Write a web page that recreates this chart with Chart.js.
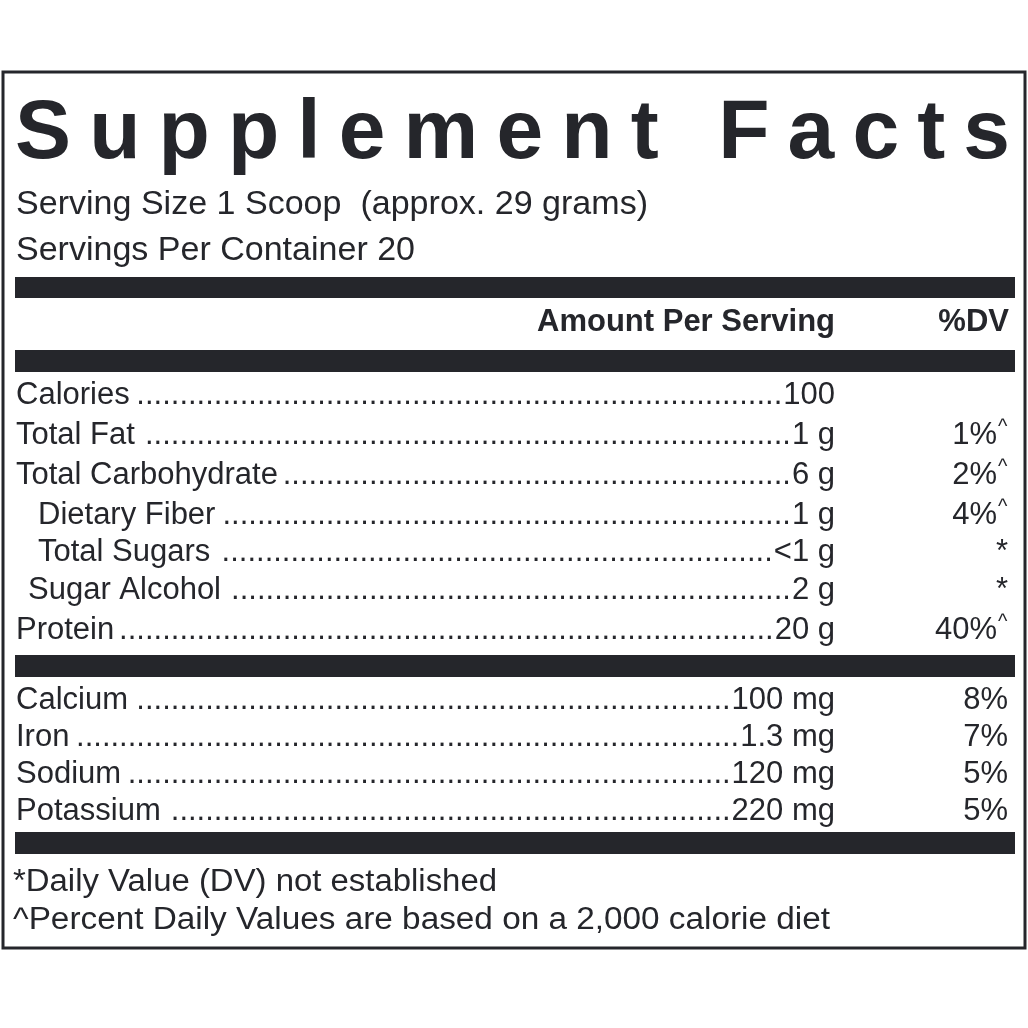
<!DOCTYPE html>
<html><head><meta charset="utf-8">
<script src="https://cdn.jsdelivr.net/npm/chart.js@4.4.1/dist/chart.umd.min.js"></script>
<style>html,body{margin:0;padding:0;background:#fff}canvas{display:block}</style>
</head><body>
<canvas id="c" width="1028" height="1028"></canvas>
<script>
const title = "Supplement Facts";
const servingLines = ["Serving Size 1 Scoop  (approx. 29 grams)", "Servings Per Container 20"];
const headerLabels = ["Amount Per Serving", "%DV"];
const nutrients = ["Calories", "Total Fat", "Total Carbohydrate", "Dietary Fiber", "Total Sugars", "Sugar Alcohol", "Protein"];
const amounts = ["100", "1 g", "6 g", "1 g", "<1 g", "2 g", "20 g"];
const dvs = ["", "1%", "2%", "4%", "*", "*", "40%"];
const dvMark = ["", "^", "^", "^", "", "", "^"];
const minerals = ["Calcium", "Iron", "Sodium", "Potassium"];
const mineralAmounts = ["100 mg", "1.3 mg", "120 mg", "220 mg"];
const mineralDvs = ["8%", "7%", "5%", "5%"];
const footnotes = ["*Daily Value (DV) not established", "^Percent Daily Values are based on a 2,000 calorie diet"];

// layout (not data)
const nutY = [395, 435, 475, 515, 552, 590, 630];
const nutX = [16, 16, 16, 38, 38, 28, 16];
const minY = [700, 737, 774, 811];
const bars = [[277, 298], [350, 372], [655, 677], [832, 854]];
const INK = "#25262b";
const BODY = '31px "Liberation Sans", Arial, sans-serif';

const labelPlugin = {
  id: 'label',
  afterDraw(chart) {
    const ctx = chart.ctx, sx = chart.scales.x, sy = chart.scales.y;
    const X = v => sx.getPixelForValue(v), Y = v => sy.getPixelForValue(v);
    ctx.save();
    ctx.fillStyle = INK; ctx.strokeStyle = INK;
    ctx.lineWidth = 3;
    ctx.strokeRect(X(3), Y(72), X(1025) - X(3), Y(948) - Y(72));
    bars.forEach(b => ctx.fillRect(X(15), Y(b[0]), X(1015) - X(15), Y(b[1]) - Y(b[0])));
    // title
    ctx.font = '900 84px "Liberation Sans", Arial, sans-serif';
    ctx.textBaseline = 'alphabetic'; ctx.textAlign = 'left';
    const n = title.length;
    let w0 = 0; for (const ch of title) w0 += ctx.measureText(ch).width;
    const sp = (X(1010) - X(15) - w0) / (n - 1);
    let tx = X(15);
    for (const ch of title) { ctx.fillText(ch, tx, Y(158)); tx += ctx.measureText(ch).width + sp; }
    // serving
    ctx.textBaseline = 'middle';
    ctx.font = '33px "Liberation Sans", Arial, sans-serif';
    const fitText = (txt, x, y, w) => { const m = ctx.measureText(txt).width; ctx.save(); ctx.translate(x, y); ctx.scale(w / m, 1); ctx.fillText(txt, 0, 0); ctx.restore(); };
    fitText(servingLines[0], X(16), Y(205), X(648) - X(16));
    fitText(servingLines[1], X(16), Y(251), X(415) - X(16));
    // header
    ctx.font = 'bold 31px "Liberation Sans", Arial, sans-serif';
    ctx.textAlign = 'right';
    ctx.fillText(headerLabels[0], X(835), Y(322));
    ctx.fillText(headerLabels[1], X(1009), Y(322));
    // rows
    ctx.font = BODY;
    const dotW = ctx.measureText('.').width;
    function row(name, x, y, amt, dv, mark) {
      ctx.textAlign = 'left';
      ctx.fillText(name, X(x), Y(y));
      const nameEnd = X(x) + ctx.measureText(name).width;
      const amtW = ctx.measureText(amt).width;
      const start = X(835) - amtW;
      const cnt = Math.floor((start - nameEnd - 4) / dotW);
      ctx.fillText('.'.repeat(Math.max(cnt, 0)), start - cnt * dotW - 1, Y(y));
      ctx.textAlign = 'right';
      ctx.fillText(amt, X(835), Y(y));
      if (mark) {
        ctx.fillText(dv, X(997), Y(y));
        ctx.font = '20px "Liberation Sans", Arial, sans-serif';
        ctx.textAlign = 'left';
        ctx.fillText(mark, X(998), Y(y - 8));
        ctx.font = BODY;
      } else if (dv) {
        ctx.fillText(dv, X(1008), Y(y));
      }
    }
    nutrients.forEach((nm, i) => row(nm, nutX[i], nutY[i], amounts[i], dvs[i], dvMark[i]));
    minerals.forEach((nm, i) => row(nm, 16, minY[i], mineralAmounts[i], mineralDvs[i], ''));
    ctx.textAlign = 'left';
    ctx.font = '31px "Liberation Sans", Arial, sans-serif';
    fitText(footnotes[0], X(13), Y(882), X(497) - X(13));
    fitText(footnotes[1], X(13), Y(920), X(830) - X(13));
    ctx.restore();
  }
};

new Chart(document.getElementById('c'), {
  type: 'scatter',
  data: { datasets: [{ data: [] }] },
  options: {
    responsive: false, animation: false,
    layout: { padding: 0 },
    plugins: { legend: { display: false }, tooltip: { enabled: false } },
    scales: {
      x: { type: 'linear', min: 0, max: 1028, display: false },
      y: { type: 'linear', min: 0, max: 1028, reverse: true, display: false }
    }
  },
  plugins: [labelPlugin]
});
</script>
</body></html>
